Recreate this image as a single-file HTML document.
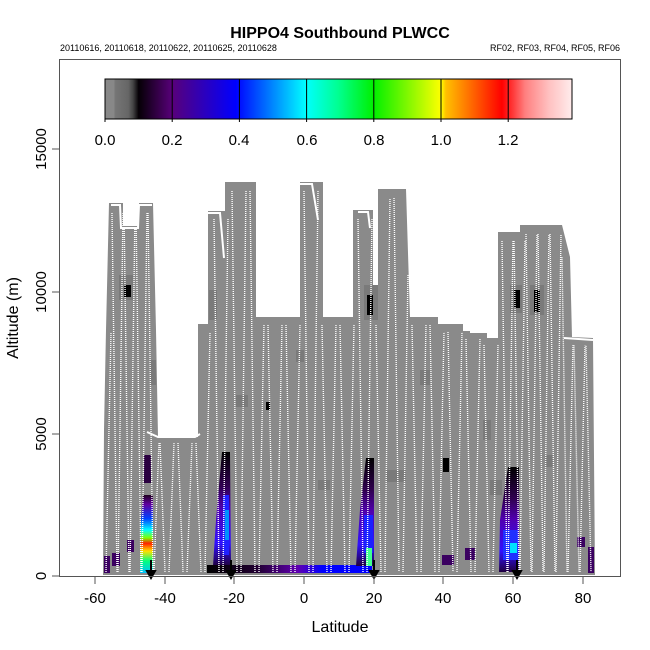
<!DOCTYPE html>
<html><head><meta charset="utf-8"><style>
html,body{margin:0;padding:0;background:#fff;}
svg{display:block;font-family:"Liberation Sans",sans-serif;}
</style></head><body>
<svg id="s" width="650" height="650" viewBox="0 0 650 650" xmlns="http://www.w3.org/2000/svg">
<defs>
<linearGradient id="cb" x1="105" x2="572" y1="0" y2="0" gradientUnits="userSpaceOnUse">
<stop offset="0" stop-color="#888"/>
<stop offset="0.02" stop-color="#888"/>
<stop offset="0.02" stop-color="#777"/>
<stop offset="0.05" stop-color="#666"/>
<stop offset="0.06" stop-color="#444"/>
<stop offset="0.072" stop-color="#050005"/>
<stop offset="0.144" stop-color="#58007a"/>
<stop offset="0.28" stop-color="#0000ff"/>
<stop offset="0.43" stop-color="#00ffff"/>
<stop offset="0.5" stop-color="#00ff90"/>
<stop offset="0.575" stop-color="#00f000"/>
<stop offset="0.72" stop-color="#ffff00"/>
<stop offset="0.73" stop-color="#ffc000"/>
<stop offset="0.85" stop-color="#ff0000"/>
<stop offset="0.87" stop-color="#ff3030"/>
<stop offset="0.9" stop-color="#ff8080"/>
<stop offset="0.95" stop-color="#ffc0c0"/>
<stop offset="1" stop-color="#ffecec"/>
</linearGradient>
<linearGradient id="c1" x1="0" y1="0" x2="0" y2="1">
<stop offset="0" stop-color="#200020"/><stop offset="0.12" stop-color="#6000a0"/>
<stop offset="0.3" stop-color="#0040ff"/><stop offset="0.45" stop-color="#00ffff"/>
<stop offset="0.55" stop-color="#80ff00"/><stop offset="0.62" stop-color="#ff2000"/>
<stop offset="0.72" stop-color="#ffe000"/><stop offset="0.85" stop-color="#00ff80"/>
<stop offset="1" stop-color="#00c0ff"/>
</linearGradient>
<linearGradient id="c2" x1="0" y1="0" x2="0" y2="1">
<stop offset="0" stop-color="#000"/><stop offset="0.3" stop-color="#300050"/>
<stop offset="0.5" stop-color="#5000b0"/><stop offset="0.8" stop-color="#3010ff"/>
<stop offset="1" stop-color="#200040"/>
</linearGradient>
<linearGradient id="c3" x1="0" y1="0" x2="1" y2="0">
<stop offset="0" stop-color="#000"/><stop offset="0.3" stop-color="#200030"/>
<stop offset="0.55" stop-color="#6000b0"/><stop offset="0.7" stop-color="#0000ff"/>
<stop offset="1" stop-color="#0000ff"/>
</linearGradient>
</defs>
<text x="340" y="38" font-size="16" font-weight="bold" text-anchor="middle">HIPPO4 Southbound PLWCC</text>
<text x="60" y="51" font-size="9">20110616, 20110618, 20110622, 20110625, 20110628</text>
<text x="620" y="51" font-size="9" text-anchor="end">RF02, RF03, RF04, RF05, RF06</text>
<g id="plot">
<polygon fill="#8a8a8a" points="103,575 104,430 106,330 109,203 123,203 123,226 139,226 139,203 153,203 156,330 158,437 198,437 198,324 208,324 208,211 225,211 225,182 256,182 256,317 300,317 300,182 323,182 323,317 353,317 353,210 373,210 373,317 378,317 378,189 406,189 410,317 438,317 438,324 463,324 463,331 470,331 470,333 487,333 487,338 498,338 498,232 520,232 520,225 562,225 570,257 572,337 593,338 595,575"/>
<g fill="#7a7a7a">
<rect x="119" y="275" width="14" height="25"/><rect x="209" y="290" width="8" height="30"/>
<rect x="364" y="285" width="14" height="35"/><rect x="510" y="285" width="12" height="28"/><rect x="530" y="285" width="14" height="30"/>
<rect x="296" y="350" width="8" height="12"/><rect x="236" y="395" width="12" height="12"/><rect x="150" y="360" width="6" height="25"/>
<rect x="483" y="420" width="8" height="20"/><rect x="420" y="370" width="10" height="15"/><rect x="318" y="480" width="12" height="10"/>
<rect x="386" y="470" width="20" height="12"/><rect x="545" y="455" width="8" height="12"/><rect x="490" y="480" width="12" height="15"/>
</g>
<g fill="#000">
<rect x="124" y="285" width="7" height="12"/><rect x="266" y="402" width="4" height="8"/><rect x="367" y="295" width="6" height="20"/>
<rect x="514" y="290" width="6" height="18"/><rect x="534" y="290" width="6" height="22"/><rect x="443" y="458" width="6" height="14"/>
</g>
<polygon points="143,495 153,495 153,573 140,573 141,520" fill="url(#c1)"/>
<rect x="144" y="455" width="7" height="28" fill="#2a0040"/>
<polygon points="222,452 230,452 231,566 213,566 216,520" fill="url(#c2)"/>
<rect x="223" y="495" width="6" height="60" fill="#2020ff"/>
<rect x="225" y="510" width="4" height="30" fill="#0090ff"/>
<rect x="207" y="565" width="165" height="8" fill="url(#c3)"/>
<polygon points="366,458 374,458 374,566 356,566 360,510" fill="url(#c2)"/>
<rect x="364" y="515" width="9" height="38" fill="#1a20ff"/>
<rect x="366" y="548" width="6" height="18" fill="#40ff90"/>
<polygon points="508,467 519,467 519,572 499,572 500,520" fill="url(#c2)"/>
<rect x="503" y="530" width="15" height="30" fill="#2030ff"/>
<rect x="510" y="543" width="7" height="10" fill="#00e0ff"/>
<g fill="#3a0060">
<rect x="104" y="556" width="6" height="17"/><rect x="112" y="553" width="8" height="13"/><rect x="127" y="540" width="7" height="12"/>
<rect x="442" y="555" width="12" height="10"/><rect x="465" y="548" width="10" height="12"/>
<rect x="577" y="537" width="8" height="10"/><rect x="588" y="547" width="6" height="26"/>
</g>
<g id="zz" fill="none" stroke="#fff" stroke-width="1.4" stroke-dasharray="1,1"></g>
<polyline fill="none" stroke="#fff" stroke-width="2" points="111,205 120,205 121,228 138,228 139,205 152,205"/>
<polyline fill="none" stroke="#fff" stroke-width="2" points="147,432 158,437 195,437 200,434"/>
<polyline fill="none" stroke="#fff" stroke-width="2" points="208,213 220,213 224,258"/>
<polyline fill="none" stroke="#fff" stroke-width="2" points="300,184 312,184 318,220"/>
<polyline fill="none" stroke="#fff" stroke-width="2" points="358,212 368,212 370,228"/>
<polyline fill="none" stroke="#fff" stroke-width="2" points="564,338 593,340"/>
<g stroke="#000" stroke-width="2" fill="#000">
<line x1="151" y1="560" x2="151" y2="573"/><polygon points="147,571 155,571 151,578"/>
<line x1="231" y1="560" x2="231" y2="573"/><polygon points="227,571 235,571 231,578"/>
<line x1="374" y1="560" x2="374" y2="573"/><polygon points="370,571 378,571 374,578"/>
<line x1="517" y1="560" x2="517" y2="573"/><polygon points="513,571 521,571 517,578"/>
</g>
</g>
<rect x="59.5" y="59.5" width="561" height="517" fill="none" stroke="#555" stroke-width="1"/>
<rect x="105" y="79" width="467" height="40" fill="url(#cb)" stroke="#000" stroke-width="1"/>
<g stroke="#000" stroke-width="1">
<line x1="105" y1="79" x2="105" y2="122"/><line x1="172.2" y1="79" x2="172.2" y2="122"/><line x1="239.4" y1="79" x2="239.4" y2="122"/>
<line x1="306.6" y1="79" x2="306.6" y2="122"/><line x1="373.8" y1="79" x2="373.8" y2="122"/><line x1="441" y1="79" x2="441" y2="122"/><line x1="508.2" y1="79" x2="508.2" y2="122"/>
</g>
<g font-size="15" text-anchor="middle">
<text x="105" y="145">0.0</text><text x="172" y="145">0.2</text><text x="239" y="145">0.4</text><text x="307" y="145">0.6</text>
<text x="374" y="145">0.8</text><text x="441" y="145">1.0</text><text x="508" y="145">1.2</text>
</g>
<g stroke="#555" stroke-width="1">
<line x1="52" y1="576" x2="59" y2="576"/><line x1="52" y1="434" x2="59" y2="434"/><line x1="52" y1="292" x2="59" y2="292"/><line x1="52" y1="149" x2="59" y2="149"/>
<line x1="95" y1="577" x2="95" y2="584"/><line x1="165" y1="577" x2="165" y2="584"/><line x1="234" y1="577" x2="234" y2="584"/><line x1="304" y1="577" x2="304" y2="584"/>
<line x1="374" y1="577" x2="374" y2="584"/><line x1="443" y1="577" x2="443" y2="584"/><line x1="513" y1="577" x2="513" y2="584"/><line x1="583" y1="577" x2="583" y2="584"/>
</g>
<g font-size="15" text-anchor="middle">
<text transform="translate(46,576) rotate(-90)">0</text>
<text transform="translate(46,434) rotate(-90)">5000</text>
<text transform="translate(46,292) rotate(-90)">10000</text>
<text transform="translate(46,149) rotate(-90)">15000</text>
<text x="95" y="603">-60</text><text x="165" y="603">-40</text><text x="234" y="603">-20</text><text x="304" y="603">0</text>
<text x="374" y="603">20</text><text x="443" y="603">40</text><text x="513" y="603">60</text><text x="583" y="603">80</text>
<text x="340" y="632" font-size="16">Latitude</text>
<text transform="translate(18,318) rotate(-90)" font-size="16">Altitude (m)</text>
</g>
</svg>
<script>
(function(){
var top=[[103,420],[106,330],[109,210],[153,210],[156,330],[158,440],[197,440],[198,330],[208,330],[209,216],[225,216],[226,188],[255,188],[256,322],[299,322],[300,188],[322,188],[323,322],[352,322],[353,216],[372,216],[373,322],[378,322],[379,195],[405,195],[410,322],[438,322],[438,329],[463,329],[463,336],[487,336],[487,342],[497,342],[498,238],[520,238],[520,231],[561,231],[569,262],[572,342],[592,343]];
function tf(x){for(var i=0;i<top.length-1;i++){var a=top[i],b=top[i+1];if(x>=a[0]&&x<=b[0]){if(b[0]==a[0])return Math.max(a[1],b[1]);return a[1]+(b[1]-a[1])*(x-a[0])/(b[0]-a[0]);}}return 400;}
var g=document.getElementById('zz'),ns='http://www.w3.org/2000/svg',d='';
var x=106,up=true;
while(x<590){var x2=x+5;var t=Math.max(tf(x),tf(x2))+3;
 if(up)d+='M'+x+',572L'+x2+','+t.toFixed(1);else d+='M'+x+','+t.toFixed(1)+'L'+x2+',572';
 up=!up;x+=(x<160||x>495)?6:9;}
var p=document.createElementNS(ns,'path');p.setAttribute('d',d);g.appendChild(p);
})();
</script>
</body></html>
